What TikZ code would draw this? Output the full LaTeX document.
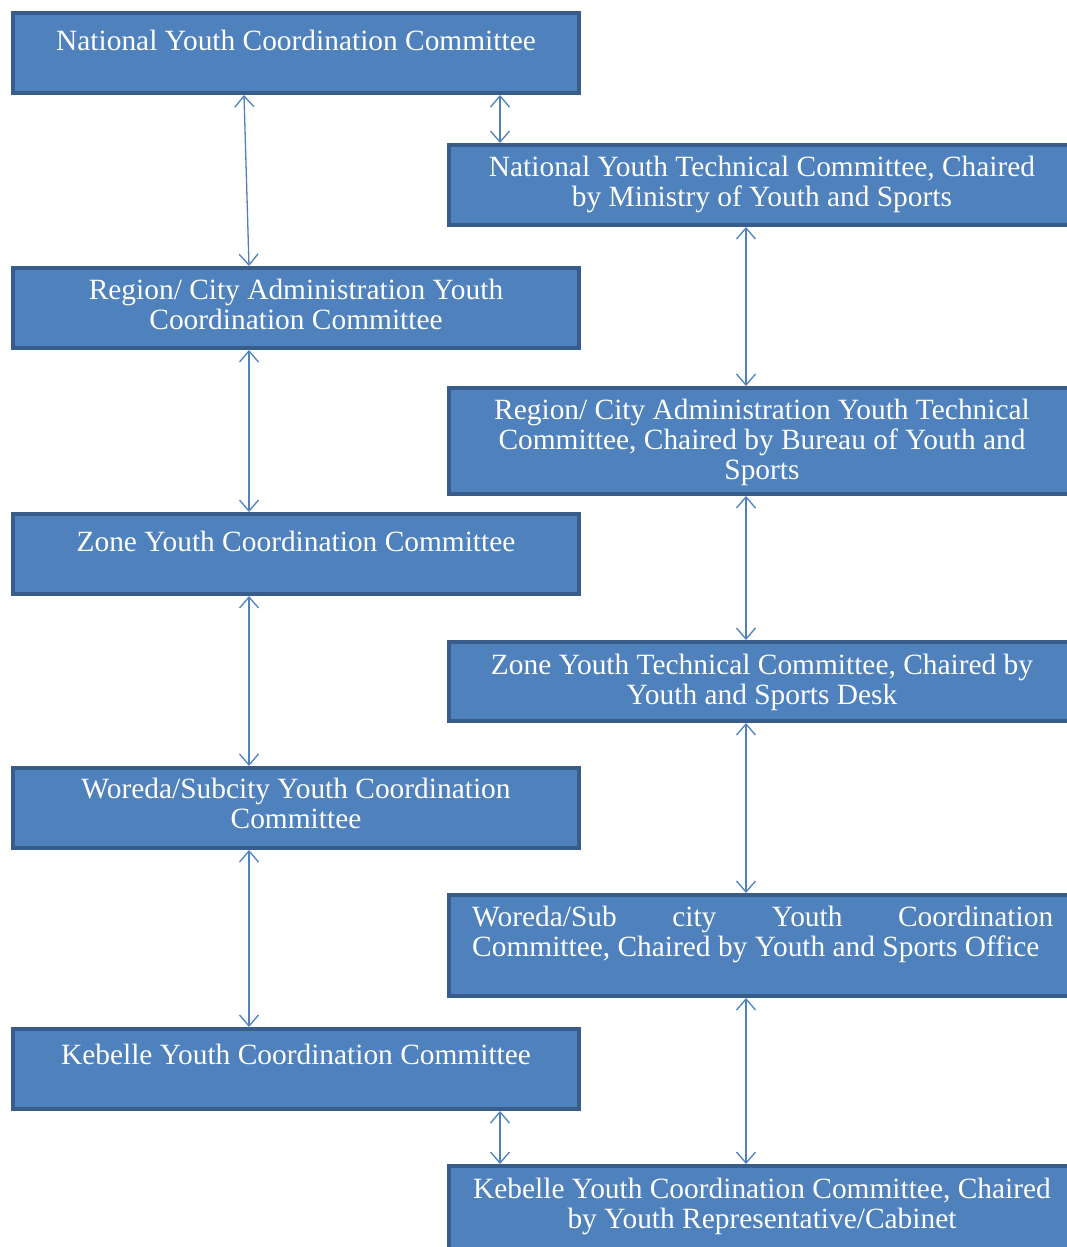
\documentclass[tikz,border=0pt]{standalone}
\usepackage{fontspec}
\setmainfont{Liberation Serif}
\usetikzlibrary{arrows.meta}
\definecolor{boxfill}{HTML}{4F81BD}
\definecolor{boxline}{HTML}{385D8A}
\definecolor{arrowc}{HTML}{4F81BD}
\begin{document}
\begin{tikzpicture}[x=1pt,y=-1pt,
  boxbase/.style={draw=boxline,fill=boxfill,line width=4pt,inner sep=0pt},
  lbox/.style={boxbase,minimum width=566pt,minimum height=#1},
  rbox/.style={boxbase,minimum width=626pt,minimum height=#1},
  lbl/.style={text=white,font=\fontsize{29.4}{29.7}\selectfont,align=center,inner sep=0pt,anchor=north},
  arr/.style={draw=arrowc,line width=1.3pt,{Straight Barb[length=11pt,width=19pt]}-{Straight Barb[length=11pt,width=19pt]}}]
\fill[white] (0,0) rectangle (1067,1247);
\useasboundingbox (0,0) rectangle (1067,1247);
\clip (0,0) rectangle (1067,1247);
% left column
\node[lbox=80pt] (L1) at (296,53) {};
\node[lbox=80pt] (L2) at (296,308) {};
\node[lbox=80pt] (L3) at (296,554) {};
\node[lbox=80pt] (L4) at (296,808) {};
\node[lbox=80pt] (L5) at (296,1069) {};
% right column
\node[rbox=80pt] (R1) at (762,185) {};
\node[rbox=106pt] (R2) at (762,441) {};
\node[rbox=79pt] (R3) at (762,681.5) {};
\node[rbox=101pt] (R4) at (762,945.5) {};
\node[rbox=90pt] (R5) at (762,1211) {};
% texts
\node[lbl] (tL1) at (296,30) {National Youth Coordination Committee};
\node[lbl] (tL2) at (296,279) {Region/ City Administration Youth\\Coordination Committee};
\node[lbl] (tL3) at (296,531) {Zone Youth Coordination Committee};
\node[lbl] (tL4) at (296,778) {Woreda/Subcity Youth Coordination\\Committee};
\node[lbl] (tL5) at (296,1044) {Kebelle Youth Coordination Committee};
\node[lbl] (tR1) at (762,156) {National Youth Technical Committee, Chaired\\by Ministry of Youth and Sports};
\node[lbl] (tR2) at (762,399) {Region/ City Administration Youth Technical\\Committee, Chaired by Bureau of Youth and\\Sports};
\node[lbl] (tR3) at (762,654) {Zone Youth Technical Committee, Chaired by\\Youth and Sports Desk};
\node[lbl,align=left,anchor=north west] (tR4) at (472,906) {\hbox to 581pt{Woreda/Sub\hfill city\hfill Youth\hfill Coordination}\\Committee, Chaired by Youth and Sports Office};
\node[lbl] (tR5) at (762,1178) {Kebelle Youth Coordination Committee, Chaired\\by Youth Representative/Cabinet};
% connectors
\draw[arr] ([xshift=-52pt]L1.south) -- ([xshift=-47pt]L2.north);
\draw[arr] ([xshift=204pt]L1.south) -- ([xshift=-262pt]R1.north);
\draw[arr] ([xshift=-47pt]L2.south) -- ([xshift=-47pt]L3.north);
\draw[arr] ([xshift=-47pt]L3.south) -- ([xshift=-47pt]L4.north);
\draw[arr] ([xshift=-47pt]L4.south) -- ([xshift=-47pt]L5.north);
\draw[arr] ([xshift=-16pt]R1.south) -- ([xshift=-16pt]R2.north);
\draw[arr] ([xshift=-16pt]R2.south) -- ([xshift=-16pt]R3.north);
\draw[arr] ([xshift=-16pt]R3.south) -- ([xshift=-16pt]R4.north);
\draw[arr] ([xshift=-16pt]R4.south) -- ([xshift=-16pt]R5.north);
\draw[arr] ([xshift=204pt]L5.south) -- ([xshift=-262pt]R5.north);
\end{tikzpicture}
\end{document}
